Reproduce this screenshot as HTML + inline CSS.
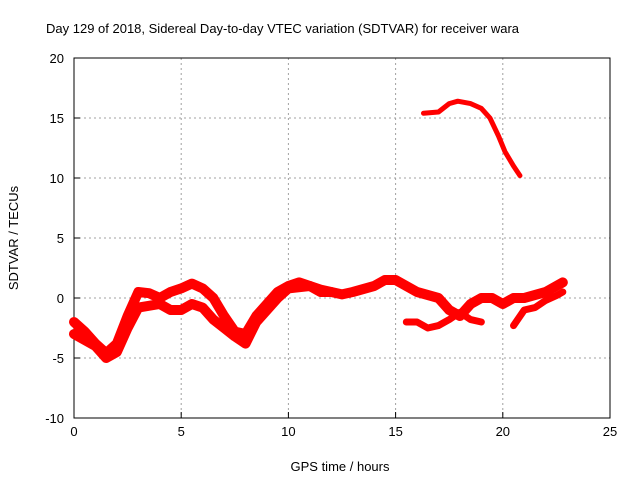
<!DOCTYPE html>
<html><head><meta charset="utf-8"><style>
body{margin:0;background:#fff;}
svg text{font-family:"Liberation Sans",sans-serif;font-size:13px;fill:#000;}
</style></head><body>
<svg width="640" height="480" xmlns="http://www.w3.org/2000/svg">
<text x="46" y="33">Day 129 of 2018, Sidereal Day-to-day VTEC variation (SDTVAR) for receiver wara</text>
<g id="grid"></g>
<g id="axes"></g>
<g id="series"></g>
<text x="340" y="471" text-anchor="middle">GPS time / hours</text>
<text transform="translate(18,238) rotate(-90)" text-anchor="middle">SDTVAR / TECUs</text>
</svg>
<script>
const xTicks=[0,5,10,15,20,25];
const yTicks=[-10,-5,0,5,10,15,20];
const hoursA=[0,0.5,1,1.5,2,2.5,3,3.5,4,4.5,5,5.5,6,6.5,7,7.5,8,8.5,9,9.5,10,10.5,11,11.5,12,12.5,13,14,14.5,15,15.5,16,17,17.5,18,18.5,19,19.5,20,20.5,21,22,22.8];
const valuesA=[-2,-2.8,-3.8,-4.6,-3.8,-1.5,0.5,0.4,0,0.5,0.8,1.2,0.8,0,-1.5,-2.8,-3,-1.5,-0.5,0.5,1,1.3,1,0.7,0.5,0.3,0.5,1,1.5,1.5,1,0.5,0,-1,-1.5,-0.5,0,0,-0.5,0,0,0.5,1.3];
const hoursB=[0,0.5,1,1.5,2,2.5,3,4,4.5,5,5.5,6,6.5,7,7.5,8,8.5,9,9.5,10,11,11.5,12];
const valuesB=[-3,-3.5,-4,-5,-4.5,-2.5,-0.8,-0.5,-1,-1,-0.5,-0.8,-1.8,-2.5,-3.2,-3.8,-2,-1,0,0.8,1,0.5,0.5];
const hoursC=[15.5,16,16.5,17,17.5,18,18.5,19];
const valuesC=[-2,-2,-2.5,-2.3,-1.8,-1.2,-1.8,-2];
const hoursD=[20.5,21,21.5,22,22.5,22.8];
const valuesD=[-2.3,-1,-0.8,-0.2,0.2,0.5];
const hoursE=[16.3,17,17.5,17.9,18.5,19,19.4,19.8,20.1,20.5,20.8];
const valuesE=[15.4,15.5,16.2,16.4,16.2,15.8,15,13.5,12.2,11,10.2];
const X0=74,X1=610,Y0=418,Y1=58;
const xs=v=>X0+(v-0)/25*(X1-X0);
const ys=v=>Y0-(v+10)/30*(Y0-Y1);
const NS="http://www.w3.org/2000/svg";
function mk(t,a,p){const e=document.createElementNS(NS,t);for(const k in a)e.setAttribute(k,a[k]);p.appendChild(e);return e;}
const grid=document.getElementById('grid'),axes=document.getElementById('axes'),ser=document.getElementById('series');
xTicks.forEach(t=>{
 if(t>0&&t<25){const l=mk('line',{x1:xs(t),x2:xs(t),y1:Y1,y2:Y0,stroke:'#a0a0a0','stroke-dasharray':'2,3'},grid);
 }
 const tk=mk('line',{x1:xs(t),x2:xs(t),y1:Y0,y2:Y0-6,stroke:'#000'},axes);
 
 const tx=mk('text',{x:xs(t),y:Y0+18,'text-anchor':'middle'},axes);tx.textContent=t;
 
});
yTicks.forEach(t=>{
 if(t>-10&&t<20){const l=mk('line',{x1:X0,x2:X1,y1:ys(t),y2:ys(t),stroke:'#a0a0a0','stroke-dasharray':'2,3'},grid);
 }
 const tk=mk('line',{x1:X0,x2:X0+6,y1:ys(t),y2:ys(t),stroke:'#000'},axes);
 
 const tx=mk('text',{x:X0-10,y:ys(t)+5,'text-anchor':'end'},axes);tx.textContent=t;
 
});
const fr=mk('rect',{x:X0,y:Y1,width:X1-X0,height:Y0-Y1,fill:'none',stroke:'#000'},axes);

function line(h,v,w,name){
 const p=mk('polyline',{points:h.map((x,i)=>xs(x)+','+ys(v[i])).join(' '),fill:'none',stroke:'#f00','stroke-width':w,'stroke-linejoin':'round','stroke-linecap':'round'},ser);
 
}
line(hoursA,valuesA,10,'trace-a');
line(hoursB,valuesB,10,'trace-b');
line(hoursC,valuesC,7,'trace-c');
line(hoursD,valuesD,7,'trace-d');
line(hoursE,valuesE,5,'trace-e');
</script>
</body></html>
